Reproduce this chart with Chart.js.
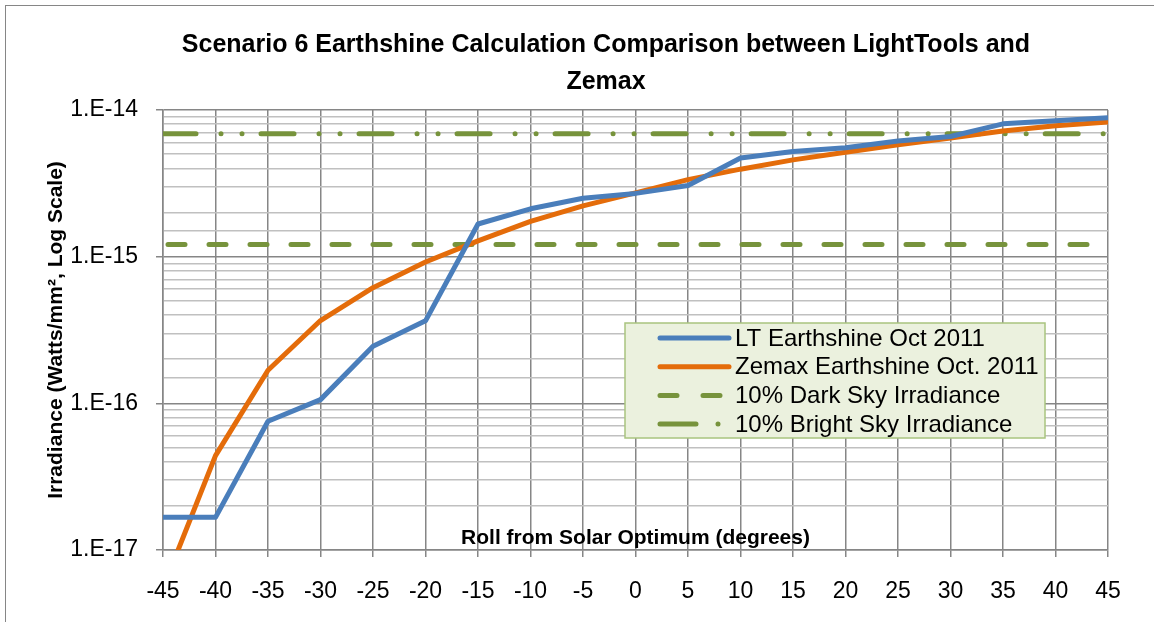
<!DOCTYPE html>
<html>
<head>
<meta charset="utf-8">
<script src="https://cdn.jsdelivr.net/npm/chart.js@4.4.1/dist/chart.umd.min.js"></script>
<style>
html, body { margin: 0; padding: 0; overflow: hidden; background: #fff; width: 1154px; height: 622px; }
#frame { position: absolute; left: 5px; top: 5px; width: 1200px; height: 616px;
  border-left: 1px solid #868686; border-top: 1px solid #868686; }
</style>
</head>
<body>
<div id="frame"><canvas id="earthshine"></canvas></div>
<script>
// roll angles (degrees)
const rolls = [-45, -40, -35, -30, -25, -20, -15, -10, -5, 0, 5, 10, 15, 20, 25, 30, 35, 40, 45];
const ltEarthshine = [1.67e-17, 1.67e-17, 7.55e-17, 1.06e-16, 2.45e-16, 3.65e-16, 1.67e-15, 2.12e-15, 2.5e-15, 2.7e-15,
  3.06e-15, 4.7e-15, 5.22e-15, 5.52e-15, 6.15e-15, 6.6e-15, 8.05e-15, 8.45e-15, 8.87e-15];
const zemaxEarthshine = [5.5e-18, 4.4e-17, 1.68e-16, 3.67e-16, 6.15e-16, 9.2e-16, 1.28e-15, 1.74e-15, 2.22e-15, 2.72e-15,
  3.35e-15, 3.95e-15, 4.57e-15, 5.15e-15, 5.8e-15, 6.45e-15, 7.2e-15, 7.8e-15, 8.3e-15];
const skyRolls = [-45, 45];
const darkSky = [1.21e-15, 1.21e-15];
const brightSky = [6.9e-15, 6.9e-15];
const yTickValues = [1e-17, 1e-16, 1e-15, 1e-14];
const yTickLabels = ['1.E-17', '1.E-16', '1.E-15', '1.E-14'];

const FONT = "'Liberation Sans', Arial, sans-serif";
const GREEN = '#77933c';
const DARK_GRID = '#868686';
const LIGHT_GRID = '#c0c0c0';

function points(xs, ys) {
  return xs.map((x, i) => ({x: x, y: ys[i]}));
}

function isDecade(v) {
  const p = Math.pow(10, Math.round(Math.log10(v)));
  return Math.abs(v - p) / p < 0.01;
}

// Excel style legend box sitting inside the plot
const boxLegend = {
  id: 'boxLegend',
  afterDraw(chart) {
    const ctx = chart.ctx;
    const a = chart.chartArea;
    const x0 = a.left + 462, y0 = a.top + 213, w = 420, h = 115;
    ctx.save();
    ctx.fillStyle = '#ebf1de';
    ctx.strokeStyle = '#a9c47f';
    ctx.lineWidth = 1.5;
    ctx.fillRect(x0, y0, w, h);
    ctx.strokeRect(x0, y0, w, h);
    ctx.font = '24px ' + FONT;
    ctx.textBaseline = 'middle';
    chart.data.datasets.forEach((ds, i) => {
      const y = y0 + 15 + i * 28.7;
      ctx.beginPath();
      ctx.strokeStyle = ds.borderColor;
      ctx.lineWidth = ds.borderWidth;
      ctx.lineCap = 'round';
      ctx.setLineDash(ds.legendDash || []);
      ctx.moveTo(x0 + 35, y);
      ctx.lineTo(x0 + 104, y);
      ctx.stroke();
      ctx.setLineDash([]);
      ctx.fillStyle = '#000';
      ctx.fillText(ds.label, x0 + 110, y + 1);
    });
    ctx.restore();
  }
};

// x axis title is drawn inside the plot, just above the axis line
const innerXTitle = {
  id: 'innerXTitle',
  afterDatasetsDraw(chart) {
    const ctx = chart.ctx;
    const a = chart.chartArea;
    ctx.save();
    ctx.font = 'bold 21px ' + FONT;
    ctx.fillStyle = '#000';
    ctx.textAlign = 'center';
    ctx.textBaseline = 'alphabetic';
    ctx.fillText('Roll from Solar Optimum (degrees)', (a.left + a.right) / 2, a.bottom - 6);
    ctx.restore();
  }
};

const ctx = document.getElementById('earthshine');

const myChart = new Chart(ctx, {
  type: 'line',
  data: {
    datasets: [{
      label: 'LT Earthshine Oct 2011',
      data: points(rolls, ltEarthshine),
      borderColor: '#4a7ebb',
      borderWidth: 5,
    }, {
      label: 'Zemax Earthshine Oct. 2011',
      data: points(rolls, zemaxEarthshine),
      borderColor: '#e46c0a',
      borderWidth: 5,
    }, {
      label: '10% Dark Sky Irradiance',
      data: points(skyRolls, darkSky),
      borderColor: GREEN,
      borderWidth: 5,
      borderDash: [17, 24],
      borderDashOffset: 36,
      legendDash: [17, 26],
    }, {
      label: '10% Bright Sky Irradiance',
      data: points(skyRolls, brightSky),
      borderColor: GREEN,
      borderWidth: 5,
      borderDash: [33, 25, 0.01, 21, 0.01, 19],
      legendDash: [36, 22, 0.01, 40],
    }],
  },
  options: {
    responsive: true,
    maintainAspectRatio: false,
    animation: false,
    events: [],
    layout: { padding: 0 },
    elements: {
      point: { radius: 0 },
      line: { tension: 0, borderCapStyle: 'round', borderJoinStyle: 'round' },
    },
    plugins: {
      legend: { display: false },
      tooltip: { enabled: false },
      title: {
        display: true,
        text: ['Scenario 6 Earthshine Calculation Comparison between LightTools and', 'Zemax'],
        color: '#000',
        font: { family: FONT, size: 25, weight: 'bold', lineHeight: 1.48 },
        padding: { top: 21, bottom: 9 },
      },
    },
    scales: {
      x: {
        type: 'linear',
        min: -45,
        max: 45,
        afterFit: (s) => { s.height = 72; },
        border: { color: DARK_GRID, width: 1.5 },
        grid: { color: DARK_GRID, lineWidth: 1.5, tickLength: 7, tickColor: DARK_GRID },
        ticks: {
          stepSize: 5,
          autoSkip: false,
          maxRotation: 0,
          padding: 21,
          color: '#000',
          font: { family: FONT, size: 23 },
        },
      },
      y: {
        type: 'logarithmic',
        min: 1e-17,
        max: 1e-14,
        afterFit: (s) => { s.width = 157; },
        border: { color: DARK_GRID, width: 1.5 },
        grid: {
          lineWidth: 1.5,
          tickLength: 7,
          color: (c) => (c.tick && isDecade(c.tick.value)) ? DARK_GRID : LIGHT_GRID,
          tickColor: (c) => (c.tick && isDecade(c.tick.value)) ? DARK_GRID : 'rgba(0,0,0,0)',
        },
        ticks: {
          autoSkip: false,
          padding: 18,
          color: '#000',
          font: { family: FONT, size: 23 },
          callback: function (value) {
            for (let i = 0; i < yTickValues.length; i++) {
              if (Math.abs(value - yTickValues[i]) / yTickValues[i] < 0.01) return yTickLabels[i];
            }
            return '';
          },
        },
        title: {
          display: true,
          text: 'Irradiance (Watts/mm\u00b2, Log Scale)',
          color: '#000',
          font: { family: FONT, size: 21, weight: 'bold' },
          padding: { top: 38, bottom: 0 },
        },
      },
      spacer: {
        type: 'linear',
        position: 'right',
        display: true,
        afterFit: (s) => { s.width = 98; },
        border: { display: false },
        grid: { display: false, drawTicks: false },
        ticks: { display: false },
      },
    },
  },
  plugins: [innerXTitle, boxLegend],
});
</script>
</body>
</html>
